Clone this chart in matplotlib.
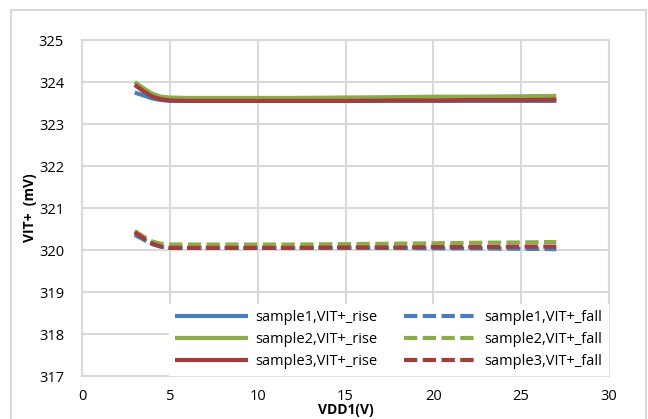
import matplotlib
matplotlib.use("Agg")
import matplotlib.pyplot as plt
from matplotlib.patches import Rectangle

plt.rcParams['font.family'] = ['Open Sans', 'DejaVu Sans']

# -------------------------------
# Data
# -------------------------------
vdd = [3, 3.5, 4, 4.5, 5, 6, 8, 10, 12, 15, 18, 20, 22, 25, 27]

s1_rise = [323.75, 323.68, 323.61, 323.57, 323.55, 323.55, 323.55, 323.55,
           323.55, 323.55, 323.55, 323.55, 323.55, 323.55, 323.55]
s2_rise = [324.00, 323.85, 323.72, 323.65, 323.63, 323.62, 323.62, 323.62,
           323.62, 323.63, 323.64, 323.65, 323.65, 323.66, 323.67]
s3_rise = [323.93, 323.78, 323.65, 323.59, 323.56, 323.55, 323.55, 323.55,
           323.55, 323.55, 323.56, 323.56, 323.57, 323.57, 323.58]

s1_fall = [320.36, 320.25, 320.14, 320.08, 320.06, 320.05, 320.05, 320.05,
           320.05, 320.05, 320.05, 320.04, 320.04, 320.03, 320.02]
s2_fall = [320.45, 320.32, 320.2, 320.15, 320.13, 320.13, 320.13, 320.13,
           320.13, 320.14, 320.15, 320.16, 320.17, 320.18, 320.19]
s3_fall = [320.42, 320.28, 320.15, 320.08, 320.05, 320.05, 320.05, 320.05,
           320.05, 320.06, 320.06, 320.07, 320.07, 320.08, 320.08]

labels = ["sample1,VIT+_rise", "sample2,VIT+_rise", "sample3,VIT+_rise",
          "sample1,VIT+_fall", "sample2,VIT+_fall", "sample3,VIT+_fall"]

blue = "#4A7EBB"
green = "#8DAA4C"
red = "#A23D3B"
grid_col = "#D9D9D9"

# -------------------------------
# Figure
# -------------------------------
fig = plt.figure(figsize=(6.48, 4.19), dpi=100)
ax = fig.add_axes([82/648, 1-376/419, (609-82)/648, (376-40)/419])

# outer chart border
fig.patches.append(Rectangle((11/648, -0.02), (646-11)/648, 1-10/419+0.02,
                             transform=fig.transFigure, fill=False,
                             edgecolor=grid_col, linewidth=1.5))

lw = 3
dash = (3.2, 1.3)
ax.plot(vdd, s1_rise, color=blue, lw=lw, solid_capstyle='butt', label=labels[0])
ax.plot(vdd, s2_rise, color=green, lw=lw, solid_capstyle='butt', label=labels[1])
ax.plot(vdd, s3_rise, color=red, lw=lw, solid_capstyle='butt', label=labels[2])
ax.plot(vdd, s1_fall, color=blue, lw=lw, dashes=dash, label=labels[3])
ax.plot(vdd, s2_fall, color=green, lw=lw, dashes=dash, label=labels[4])
ax.plot(vdd, s3_fall, color=red, lw=lw, dashes=dash, label=labels[5])

ax.set_xlim(0, 30)
ax.set_ylim(317, 325)
ax.set_xticks(range(0, 31, 5))
ax.set_yticks(range(317, 326))
ax.grid(True, color=grid_col, lw=1.5)
ax.set_axisbelow(True)
ax.tick_params(length=0, labelsize=10.5)
ax.tick_params(axis='x', pad=9)
ax.tick_params(axis='y', pad=13)
for sp in ax.spines.values():
    sp.set_color(grid_col)
    sp.set_linewidth(1.5)

ax.set_xlabel("VDD1(V)", fontsize=10, fontweight='bold', va='center')
ax.xaxis.set_label_coords(0.5, -0.101)
ax.set_ylabel("VIT+  (mV)", fontsize=10, fontweight='bold', va='center')
ax.yaxis.set_label_coords(-0.099, 0.5)

leg = ax.legend(ncol=2, loc='lower right', bbox_to_anchor=(1, 0),
                borderaxespad=0.1, fontsize=10.5, handlelength=5.0,
                frameon=True, fancybox=False, framealpha=1,
                edgecolor='white', columnspacing=1.8, labelspacing=0.48,
                handletextpad=0.5)

fig.savefig("out.png", dpi=100)
